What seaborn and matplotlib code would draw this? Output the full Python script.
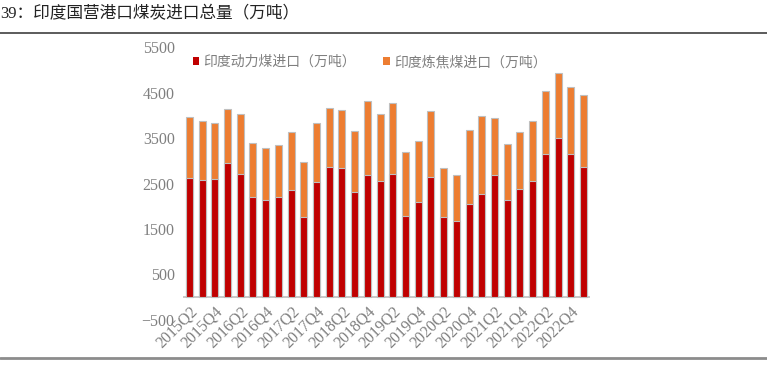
import seaborn as sns
import matplotlib.pyplot as plt
import pandas as pd
import numpy as np
from matplotlib.lines import Line2D
from matplotlib.patches import Patch

quarters = ["2015Q2", "2015Q3", "2015Q4", "2016Q1", "2016Q2", "2016Q3", "2016Q4", "2017Q1",
	"2017Q2", "2017Q3", "2017Q4", "2018Q1", "2018Q2", "2018Q3", "2018Q4", "2019Q1",
	"2019Q2", "2019Q3", "2019Q4", "2020Q1", "2020Q2", "2020Q3", "2020Q4", "2021Q1",
	"2021Q2", "2021Q3", "2021Q4", "2022Q1", "2022Q2", "2022Q3", "2022Q4", "2023Q1"]

# 印度动力煤进口（万吨）
thermal = [2620, 2570, 2600, 2950, 2710, 2210, 2130, 2210, 2350, 1760, 2530, 2860, 2830, 2310, 2680, 2560,
	2710, 1780, 2100, 2650, 1760, 1670, 2050, 2280, 2690, 2130, 2370, 2550, 3140, 3490, 3140, 2860]
# 印度炼焦煤进口（万吨）
coking = [1340, 1310, 1230, 1180, 1320, 1180, 1150, 1140, 1290, 1220, 1310, 1290, 1290, 1350, 1640, 1460,
	1560, 1420, 1330, 1440, 1090, 1020, 1630, 1700, 1260, 1240, 1270, 1330, 1400, 1430, 1490, 1590]

label_thermal = "印度动力煤进口（万吨）"
label_coking = "印度炼焦煤进口（万吨）"
title = "39：印度国营港口煤炭进口总量（万吨）"

df = pd.DataFrame({"quarter": quarters, "thermal": thermal, "coking": coking})
df["total"] = df["thermal"] + df["coking"]

sns.set_style("white")
plt.rcParams['font.family'] = ['Liberation Serif', 'Noto Sans CJK SC']

red = "#C00000"
orange = "#ED7D31"
gray_text = "#7F7F7F"

fig = plt.figure(figsize=(7.67, 3.69), dpi=100)
ax = fig.add_axes([0.2386, 0.1328, 0.5305, 0.7398])

sns.barplot(data=df, x="quarter", y="total", color=orange, width=0.55,
	edgecolor="#BFBFBF", linewidth=0.8, ax=ax, saturation=1)
sns.barplot(data=df, x="quarter", y="thermal", color=red, width=0.55,
	edgecolor="#BFBFBF", linewidth=0.8, ax=ax, saturation=1)

ax.set_xlim(-0.5, len(quarters) - 0.5)
ax.set_ylim(-500, 5500)
ax.set_yticks(np.arange(-500, 5501, 1000))
ax.set_yticklabels([str(v) if v >= 0 else "−500" for v in range(-500, 5501, 1000)],
	fontsize=11.5, color=gray_text)
ax.set_xticks(range(0, len(quarters), 2))
ax.set_xticklabels(quarters[::2], rotation=45, ha="right", rotation_mode="anchor",
	fontsize=11.5, color=gray_text)
ax.tick_params(axis="both", length=0)
ax.tick_params(axis="x", pad=-12)
ax.tick_params(axis="y", pad=6)
ax.set_xlabel("")
ax.set_ylabel("")
for s in ["left", "right", "top", "bottom"]:
	ax.spines[s].set_visible(False)
ax.axhline(0, color="#BFBFBF", linewidth=1.2, zorder=0)

handles = [Patch(facecolor=red, edgecolor="none"), Patch(facecolor=orange, edgecolor="none")]
fig.legend(handles, [label_thermal, label_coking], loc="center left",
	bbox_to_anchor=(180 / 767, 1 - 62 / 369), ncol=2, frameon=False,
	handlelength=0.5, handleheight=0.5, handletextpad=0.3, columnspacing=1.9,
	prop={"family": ["Noto Sans CJK SC"], "size": 10}, labelcolor=gray_text)

fig.text(0.0, 1 - 14 / 369, title, fontsize=12, color="#222222", va="center", ha="left")
fig.add_artist(Line2D([0, 1], [1 - 33 / 369, 1 - 33 / 369], color="#404040", linewidth=1.2,
	transform=fig.transFigure))
fig.add_artist(Line2D([0, 1], [1 - 358 / 369, 1 - 358 / 369], color="#8C8C8C", linewidth=2,
	transform=fig.transFigure))

fig.savefig("out.png", dpi=100)
